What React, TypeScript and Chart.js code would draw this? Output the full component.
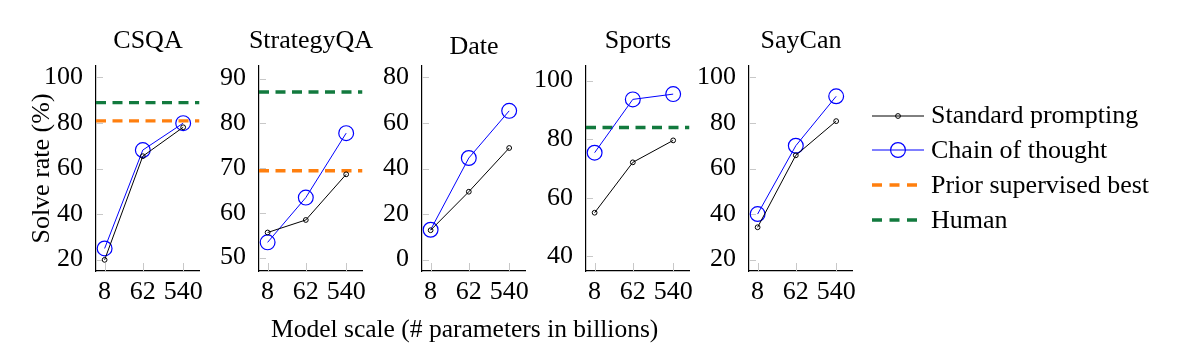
import React, { useEffect, useRef } from "react";
import { Chart, registerables } from "chart.js";

Chart.register(...registerables);

const FONT = "'Liberation Serif', 'Times New Roman', serif";

// ---- data ----
const panelTitles = ["CSQA", "StrategyQA", "Date", "Sports", "SayCan"];
const modelSizes = [8, 62, 540];

const standardCSQA = [19.9, 65.4, 78.1];
const cotCSQA = [24.9, 68.1, 79.9];
const standardStrategyQA = [55.6, 58.4, 68.6];
const cotStrategyQA = [53.4, 63.4, 77.8];
const standardDate = [12.9, 29.8, 49.0];
const cotDate = [13.1, 44.6, 65.3];
const standardSports = [54.9, 72.1, 79.6];
const cotSports = [75.4, 93.6, 95.4];
const standardSayCan = [34.2, 65.8, 80.8];
const cotSayCan = [40.0, 70.0, 91.7];

// reference lines (null = not shown)
const priorBest = [80.9, 69.4, null, null, null];
const humanLevel = [88.9, 87.0, null, 84.0, null];

// axis ranges and tick labels
const xRange = [5.04, 1296];
const yRanges = [
  [15, 105],
  [47, 92.8],
  [-5, 85],
  [35, 105],
  [15, 105],
];
const yTicks = [
  [20, 40, 60, 80, 100],
  [50, 60, 70, 80, 90],
  [0, 20, 40, 60, 80],
  [40, 60, 80, 100],
  [20, 40, 60, 80, 100],
];

const legendLabels = ["Standard prompting", "Chain of thought", "Prior supervised best", "Human"];
const yAxisLabel = "Solve rate (%)";
const xAxisLabel = "Model scale (# parameters in billions)";

const standardSeries = [standardCSQA, standardStrategyQA, standardDate, standardSports, standardSayCan];
const cotSeries = [cotCSQA, cotStrategyQA, cotDate, cotSports, cotSayCan];

// ---- styles ----
const BLUE = "#0000ff";
const ORANGE = "#ff7f0e";
const GREEN = "#127a3e";
const DASH = [10, 6.5];

// layout (px)
const axisLefts = [96, 259, 422, 586, 749];
const SIDE = 96;
const CANVAS_W = 296;
const CANVAS_H = 320;
const titleTops = [25.4, 25.4, 31.4, 25.4, 25.4];

const innerTicks = {
  id: "innerTicks",
  beforeDatasetsDraw(chart: any) {
    const { ctx, chartArea, scales } = chart;
    ctx.save();
    ctx.strokeStyle = "#c8c8c8";
    ctx.lineWidth = 1;
    scales.y.ticks.forEach((t: any) => {
      const y = Math.round(scales.y.getPixelForValue(t.value)) + 0.5;
      ctx.beginPath();
      ctx.moveTo(chartArea.left, y);
      ctx.lineTo(chartArea.left + 7, y);
      ctx.stroke();
    });
    scales.x.ticks.forEach((t: any) => {
      const x = Math.round(scales.x.getPixelForValue(t.value)) + 0.5;
      ctx.beginPath();
      ctx.moveTo(x, chartArea.bottom);
      ctx.lineTo(x, chartArea.bottom - 8);
      ctx.stroke();
    });
    ctx.restore();
  },
};

function Panel({ index }: { index: number }) {
  const ref = useRef<HTMLCanvasElement | null>(null);
  useEffect(() => {
    if (!ref.current) return;
    const datasets: any[] = [
      {
        label: legendLabels[0],
        data: modelSizes.map((x, i) => ({ x, y: standardSeries[index][i] })),
        borderColor: "#000",
        borderWidth: 1,
        pointRadius: 2.4,
        pointBorderWidth: 1,
        pointBackgroundColor: "rgba(255,255,255,0)",
        pointBorderColor: "#000",
        tension: 0,
      },
      {
        label: legendLabels[1],
        data: modelSizes.map((x, i) => ({ x, y: cotSeries[index][i] })),
        borderColor: BLUE,
        borderWidth: 1,
        pointRadius: 7.4,
        pointBorderWidth: 1.2,
        pointBackgroundColor: "rgba(255,255,255,0)",
        pointBorderColor: BLUE,
        tension: 0,
      },
    ];
    if (priorBest[index] !== null) {
      datasets.push({
        label: legendLabels[2],
        data: xRange.map((x) => ({ x, y: priorBest[index] })),
        borderColor: ORANGE,
        borderWidth: 3.4,
        borderDash: DASH,
        pointRadius: 0,
      });
    }
    if (humanLevel[index] !== null) {
      datasets.push({
        label: legendLabels[3],
        data: xRange.map((x) => ({ x, y: humanLevel[index] })),
        borderColor: GREEN,
        borderWidth: 3.4,
        borderDash: DASH,
        pointRadius: 0,
      });
    }
    const tickFont = { family: FONT, size: 26, weight: "normal" as const };
    const tp = titleTops[index];
    const chart = new Chart(ref.current, {
      type: "line",
      data: { datasets },
      plugins: [innerTicks],
      options: {
        animation: false,
        responsive: false,
        events: [],
        layout: { padding: 0 },
        plugins: {
          legend: { display: false },
          tooltip: { enabled: false },
          title: {
            display: true,
            fullSize: true,
            text: panelTitles[index],
            color: "#000",
            font: { family: FONT, size: 26, weight: "normal", lineHeight: 1.2 },
            padding: { top: tp, bottom: 66 - tp - 31.2 },
          },
        },
        scales: {
          x: {
            type: "logarithmic",
            min: xRange[0],
            max: xRange[1],
            grid: { display: false, drawTicks: false },
            border: { display: true, color: "#000", width: 1.2 },
            ticks: {
              autoSkip: false,
              maxRotation: 0,
              padding: 6,
              color: "#000",
              font: tickFont,
              callback: (v: any) => String(v),
            },
            afterBuildTicks: (s: any) => {
              s.ticks = modelSizes.map((v) => ({ value: v }));
            },
            afterFit: (s: any) => {
              s.height = CANVAS_H - 271;
            },
          },
          y: {
            type: "linear",
            position: "left",
            min: yRanges[index][0],
            max: yRanges[index][1],
            grid: { display: false, drawTicks: false },
            border: { display: true, color: "#000", width: 1.2 },
            ticks: {
              autoSkip: false,
              padding: 13,
              color: "#000",
              font: tickFont,
            },
            afterBuildTicks: (s: any) => {
              s.ticks = yTicks[index].map((v) => ({ value: v }));
            },
            afterFit: (s: any) => {
              s.width = SIDE;
            },
            title: {
              display: index === 0,
              text: yAxisLabel,
              color: "#000",
              font: { family: FONT, size: 26, weight: "normal", lineHeight: 1.2 },
              padding: { top: 27, bottom: 0 },
            },
          },
          // empty spacer on the right so the panel title stays centred over the plot
          spacer: {
            type: "linear",
            position: "right",
            display: true,
            grid: { display: false, drawTicks: false },
            border: { display: false },
            ticks: { display: false },
            afterFit: (s: any) => {
              s.width = CANVAS_W - SIDE - 103.5;
            },
          },
        },
      },
    });
    return () => chart.destroy();
  }, [index]);
  return (
    <canvas
      ref={ref}
      width={CANVAS_W}
      height={CANVAS_H}
      style={{
        position: "absolute",
        left: axisLefts[index] - SIDE,
        top: 0,
        width: CANVAS_W,
        height: CANVAS_H,
      }}
    />
  );
}

const legendRowCenters = [115.6, 150.4, 185.2, 219.8];

function LegendSample({ kind }: { kind: number }) {
  const w = 52;
  const h = 20;
  const c = h / 2;
  if (kind === 0 || kind === 1) {
    const col = kind === 0 ? "#000" : BLUE;
    const r = kind === 0 ? 2.4 : 7.4;
    return (
      <svg width={w} height={h} style={{ display: "block" }}>
        <line x1={0} y1={c} x2={w} y2={c} stroke={col} strokeWidth={1} />
        <circle cx={w / 2} cy={c} r={r} fill="none" stroke={col} strokeWidth={kind === 0 ? 1 : 1.2} />
      </svg>
    );
  }
  const col = kind === 2 ? ORANGE : GREEN;
  return (
    <svg width={w} height={h} style={{ display: "block" }}>
      <line x1={0} y1={c} x2={46} y2={c} stroke={col} strokeWidth={3.4} strokeDasharray="10 7.5" />
    </svg>
  );
}

export default function App() {
  return (
    <div
      style={{
        position: "absolute",
        left: 0,
        top: 0,
        width: 1186,
        height: 360,
        background: "#fff",
        fontFamily: FONT,
        overflow: "hidden",
      }}
    >
      {panelTitles.map((_, i) => (
        <Panel key={i} index={i} />
      ))}
      {legendLabels.map((label, i) => (
        <div key={label}>
          <div style={{ position: "absolute", left: 872, top: legendRowCenters[i] - 10 }}>
            <LegendSample kind={i} />
          </div>
          <div
            style={{
              position: "absolute",
              left: 931,
              top: legendRowCenters[i] - 15.2,
              height: 30,
              lineHeight: "30px",
              fontSize: 26,
              whiteSpace: "nowrap",
              color: "#000",
            }}
          >
            {label}
          </div>
        </div>
      ))}
      <div
        style={{
          position: "absolute",
          left: 271,
          top: 313.7,
          height: 30,
          lineHeight: "30px",
          fontSize: 25.5,
          whiteSpace: "nowrap",
          color: "#000",
        }}
      >
        {xAxisLabel}
      </div>
    </div>
  );
}
